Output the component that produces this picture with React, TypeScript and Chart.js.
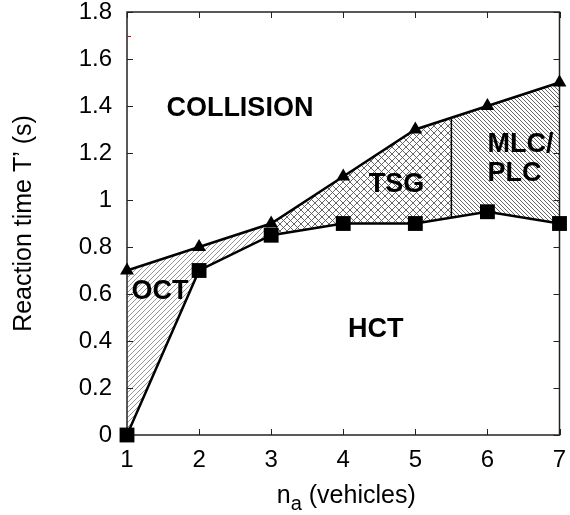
import { useEffect, useRef } from "react";
import { Chart, registerables } from "chart.js";

Chart.register(...registerables);

// ---- data ----
const vehicles = [1, 2, 3, 4, 5, 6, 7];
const collisionBoundary = [0.7, 0.8, 0.9, 1.1, 1.3, 1.4, 1.5]; // triangles
const hctBoundary = [0, 0.7, 0.85, 0.9, 0.9, 0.95, 0.9]; // squares
const regionSplits = [1, 3, 5.5, 7]; // OCT | TSG | MLC/PLC
const regionNames = ["COLLISION", "OCT", "TSG", "MLC/", "PLC", "HCT"];
const regionAnchorsX = [2.566, 1.457, 4.74, 6.0, 6.0, 4.45];
const regionAnchorsY = [1.391, 0.609, 1.064, 1.238, 1.111, 0.447];
const regionAlign = ["center", "center", "center", "left", "left", "center"];
const yTitle = "Reaction time T\u2019 (s)";
const xTitleMain = "n";
const xTitleSub = "a";
const xTitleRest = " (vehicles)";

const FONT = "'Liberation Sans', Arial, Helvetica, sans-serif";

function interp(xs: number[], ys: number[], x: number) {
  for (let i = 0; i < xs.length - 1; i++) {
    if (x >= xs[i] && x <= xs[i + 1]) {
      const t = (x - xs[i]) / (xs[i + 1] - xs[i]);
      return ys[i] + t * (ys[i + 1] - ys[i]);
    }
  }
  return ys[ys.length - 1];
}

function makeHatch(
  ctx: CanvasRenderingContext2D,
  size: number,
  dirs: string[],
  color: string,
  lw: number
) {
  const c = document.createElement("canvas");
  c.width = size;
  c.height = size;
  const g = c.getContext("2d")!;
  g.strokeStyle = color;
  g.lineWidth = lw;
  for (const d of dirs) {
    g.beginPath();
    if (d === "/") {
      for (let k = -1; k <= 1; k++) {
        g.moveTo(k * size, size);
        g.lineTo(k * size + size, 0);
      }
    } else {
      for (let k = -1; k <= 1; k++) {
        g.moveTo(k * size, 0);
        g.lineTo(k * size + size, size);
      }
    }
    g.stroke();
  }
  return ctx.createPattern(c, "repeat")!;
}

const regionsPlugin = {
  id: "regions",
  beforeDatasetsDraw(chart: any) {
    const { ctx, chartArea, scales } = chart;
    const xs = scales.x;
    const ys = scales.y;
    const patterns = [
      makeHatch(ctx, 5, ["/"], "#7a7a7a", 0.8),
      makeHatch(ctx, 7, ["/", "\\"], "#555", 0.9),
      makeHatch(ctx, 4, ["\\"], "#555", 0.9),
    ];
    const poly = () => {
      ctx.beginPath();
      vehicles.forEach((v, i) => {
        const px = xs.getPixelForValue(v);
        const py = ys.getPixelForValue(collisionBoundary[i]);
        if (i === 0) ctx.moveTo(px, py);
        else ctx.lineTo(px, py);
      });
      for (let i = vehicles.length - 1; i >= 0; i--) {
        ctx.lineTo(xs.getPixelForValue(vehicles[i]), ys.getPixelForValue(hctBoundary[i]));
      }
      ctx.closePath();
    };
    for (let r = 0; r < 3; r++) {
      ctx.save();
      const x0 = xs.getPixelForValue(regionSplits[r]);
      const x1 = xs.getPixelForValue(regionSplits[r + 1]);
      ctx.beginPath();
      ctx.rect(x0, chartArea.top - 20, x1 - x0, chartArea.bottom - chartArea.top + 40);
      ctx.clip();
      poly();
      ctx.fillStyle = patterns[r];
      ctx.fill();
      ctx.restore();
    }
    const sx = regionSplits[2];
    ctx.save();
    ctx.strokeStyle = "#000";
    ctx.lineWidth = 1.5;
    ctx.beginPath();
    ctx.moveTo(xs.getPixelForValue(sx), ys.getPixelForValue(interp(vehicles, collisionBoundary, sx)));
    ctx.lineTo(xs.getPixelForValue(sx), ys.getPixelForValue(interp(vehicles, hctBoundary, sx)));
    ctx.stroke();

    const { left, right, top, bottom } = chartArea;
    ctx.strokeStyle = "#222";
    ctx.lineWidth = 1.5;
    ctx.strokeRect(left, top, right - left, bottom - top);
    ctx.lineWidth = 1;
    ctx.beginPath();
    const tl = 6;
    xs.ticks.forEach((t: any) => {
      const px = Math.round(xs.getPixelForValue(t.value)) + 0.5;
      ctx.moveTo(px, bottom);
      ctx.lineTo(px, bottom - tl);
      ctx.moveTo(px, top);
      ctx.lineTo(px, top + tl);
    });
    ys.ticks.forEach((t: any) => {
      const py = Math.round(ys.getPixelForValue(t.value)) + 0.5;
      ctx.moveTo(left, py);
      ctx.lineTo(left + tl, py);
      ctx.moveTo(right, py);
      ctx.lineTo(right - tl, py);
    });
    ctx.stroke();
    ctx.strokeStyle = "#d00";
    ctx.lineWidth = 1;
    ctx.beginPath();
    const ry = Math.round(ys.getPixelForValue(1.7)) + 0.5;
    ctx.moveTo(left, ry);
    ctx.lineTo(left + 4, ry);
    ctx.stroke();
    ctx.restore();
  },
  afterDatasetsDraw(chart: any) {
    const { ctx, scales } = chart;
    const xs = scales.x;
    const ys = scales.y;
    ctx.save();
    ctx.fillStyle = "#000";
    ctx.font = `bold 27px ${FONT}`;
    ctx.textBaseline = "middle";
    regionNames.forEach((name, i) => {
      ctx.textAlign = regionAlign[i] as CanvasTextAlign;
      ctx.fillText(name, xs.getPixelForValue(regionAnchorsX[i]), ys.getPixelForValue(regionAnchorsY[i]));
    });
    const big = `25px ${FONT}`;
    const small = `20px ${FONT}`;
    ctx.textBaseline = "alphabetic";
    ctx.textAlign = "left";
    ctx.font = big;
    const w1 = ctx.measureText(xTitleMain).width;
    const w3 = ctx.measureText(xTitleRest).width;
    ctx.font = small;
    const w2 = ctx.measureText(xTitleSub).width;
    const total = w1 + w2 + w3;
    const cx = (chart.chartArea.left + chart.chartArea.right) / 2 + 3;
    let x = cx - total / 2;
    const base = 503;
    ctx.font = big;
    ctx.fillText(xTitleMain, x, base);
    x += w1;
    ctx.font = small;
    ctx.fillText(xTitleSub, x, base + 7);
    x += w2;
    ctx.font = big;
    ctx.fillText(xTitleRest, x, base);
    ctx.restore();
  },
};

export default function App() {
  const ref = useRef<HTMLCanvasElement | null>(null);
  useEffect(() => {
    if (!ref.current) return;
    const chart = new Chart(ref.current, {
      type: "line",
      data: {
        datasets: [
          {
            label: "Collision boundary",
            data: vehicles.map((v, i) => ({ x: v, y: collisionBoundary[i] })),
            borderColor: "#000",
            backgroundColor: "#000",
            borderWidth: 2.5,
            pointStyle: "triangle",
            pointRadius: 8,
            pointBorderWidth: 0,
            tension: 0,
            clip: false as any,
          },
          {
            label: "HCT boundary",
            data: vehicles.map((v, i) => ({ x: v, y: hctBoundary[i] })),
            borderColor: "#000",
            backgroundColor: "#000",
            borderWidth: 2.5,
            pointStyle: "rect",
            pointRadius: 10.5,
            pointBorderWidth: 0,
            tension: 0,
            clip: false as any,
          },
        ],
      },
      options: {
        responsive: false,
        animation: false,
        layout: { padding: { left: 0, top: 12, right: 6, bottom: 0 } },
        plugins: { legend: { display: false }, tooltip: { enabled: false } },
        scales: {
          x: {
            type: "linear",
            min: 1,
            max: 7,
            grid: { display: false, drawTicks: false },
            border: { display: false },
            ticks: {
              stepSize: 1,
              padding: 11,
              color: "#000",
              font: { family: FONT, size: 24 },
              maxRotation: 0,
            },
            afterFit: (s: any) => {
              s.height = 80;
              s.paddingLeft = 0;
              s.paddingRight = 0;
            },
          },
          y: {
            min: 0,
            max: 1.8,
            grid: { display: false, drawTicks: false },
            border: { display: false },
            ticks: {
              stepSize: 0.2,
              padding: 15,
              color: "#000",
              font: { family: FONT, size: 24 },
              callback: (v: any) => String(Math.round(Number(v) * 10) / 10),
            },
            title: {
              display: true,
              text: yTitle,
              color: "#000",
              font: { family: FONT, size: 25 },
              padding: { top: 9, bottom: 0 },
            },
            afterFit: (s: any) => {
              s.width = 127;
              s.paddingTop = 0;
              s.paddingBottom = 0;
            },
          },
        },
      },
      plugins: [regionsPlugin],
    });
    return () => chart.destroy();
  }, []);
  return (
    <div style={{ position: "fixed", left: 0, top: 0, width: 570, height: 515, background: "#fff" }}>
      <canvas ref={ref} width={570} height={515} style={{ display: "block" }} />
    </div>
  );
}
